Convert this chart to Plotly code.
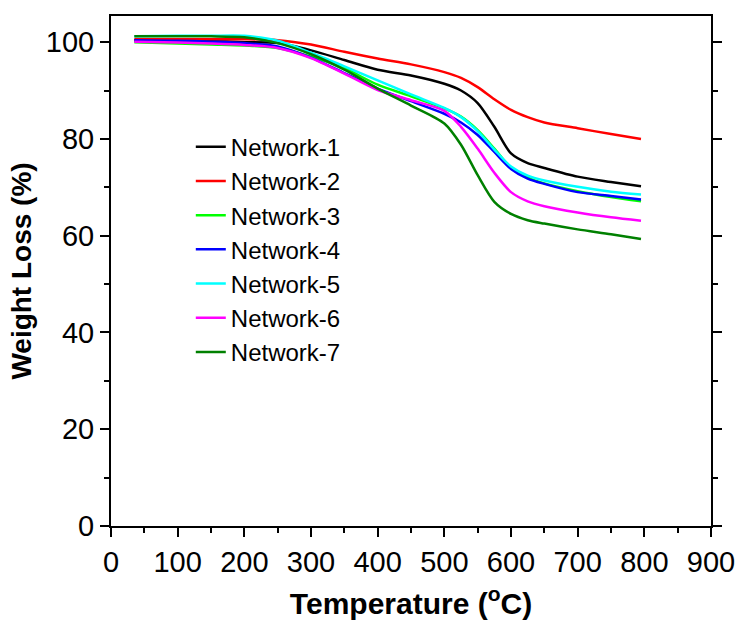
import plotly.graph_objects as go

temperature = [35, 100, 150, 200, 250, 300, 350, 400, 450, 500, 525, 550, 575, 600, 625, 650, 700, 750, 795]

network_1 = [100.4, 100.3, 100.2, 100.0, 99.8, 98.3, 96.3, 94.3, 93.1, 91.4, 90.0, 87.4, 82.5, 77.0, 75.0, 74.0, 72.2, 71.1, 70.2]
network_2 = [100.6, 100.6, 100.6, 100.6, 100.4, 99.5, 98.0, 96.6, 95.4, 93.8, 92.6, 90.7, 88.2, 86.0, 84.5, 83.4, 82.2, 81.0, 80.0]
network_3 = [100.0, 99.7, 99.5, 99.3, 98.8, 97.0, 94.6, 91.2, 88.8, 86.3, 84.6, 81.8, 78.0, 74.0, 72.0, 70.8, 69.2, 68.0, 67.1]
network_4 = [100.4, 100.3, 100.1, 99.8, 99.1, 96.8, 93.6, 90.4, 87.8, 85.2, 83.4, 80.8, 77.3, 73.8, 71.8, 70.7, 69.0, 68.2, 67.5]
network_5 = [101.2, 101.3, 101.3, 101.3, 100.3, 97.8, 95.0, 92.1, 89.2, 86.4, 84.5, 81.6, 77.8, 74.3, 72.4, 71.4, 70.1, 69.1, 68.5]
network_6 = [100.1, 99.9, 99.7, 99.4, 98.8, 96.7, 93.5, 90.1, 88.0, 85.8, 82.5, 78.0, 73.0, 69.0, 67.1, 66.1, 64.8, 63.8, 63.1]
network_7 = [101.2, 101.2, 101.2, 101.0, 99.8, 97.5, 94.3, 90.4, 86.9, 83.2, 78.8, 72.5, 67.0, 64.5, 63.2, 62.5, 61.3, 60.3, 59.3]

names = ["Network-1", "Network-2", "Network-3", "Network-4", "Network-5", "Network-6", "Network-7"]
series = [network_1, network_2, network_3, network_4, network_5, network_6, network_7]
colors = ["#000000", "#FF0000", "#00FF00", "#0000FF", "#00FFFF", "#FF00FF", "#008000"]

x_ticks = [0, 100, 200, 300, 400, 500, 600, 700, 800, 900]
y_ticks = [0, 20, 40, 60, 80, 100]

fig = go.Figure()
for i, (name, ys, c) in enumerate(zip(names, series, colors)):
    fig.add_trace(go.Scatter(
        x=temperature, y=ys, mode="lines", name=name,
        line=dict(color=c, width=2.5, shape="spline", smoothing=0.8),
        legendgroup=name,
    ))

font_family = "Liberation Sans, Arial, sans-serif"

fig.update_layout(
    width=747, height=627,
    margin=dict(l=111, r=29, t=16, b=101),
    paper_bgcolor="white", plot_bgcolor="white",
    font=dict(family=font_family, color="black"),
    showlegend=True,
    legend=dict(
        x=0.133, y=0.787, xanchor="left", yanchor="top",
        bgcolor="rgba(0,0,0,0)", borderwidth=0,
        font=dict(size=24, family=font_family, color="black"),
        tracegroupgap=0,
    ),
    xaxis=dict(
        range=[0, 900], tickvals=x_ticks, ticks="outside", ticklen=9, tickwidth=2,
        tickcolor="black", showline=True, linewidth=2, linecolor="black", mirror=True,
        showgrid=False, zeroline=False,
        tickfont=dict(size=29, family=font_family),
        minor=dict(ticks="outside", ticklen=5, tickwidth=2, tickcolor="black", dtick=50, showgrid=False),
        title=dict(text="<b>Temperature (<sup>o</sup>C)</b>", font=dict(size=30, family=font_family), standoff=16),
    ),
    yaxis=dict(
        range=[0, 105.4], tickvals=y_ticks, ticks="outside", ticklen=9, tickwidth=2,
        tickcolor="black", showline=True, linewidth=2, linecolor="black", mirror="ticks",
        showgrid=False, zeroline=False,
        tickfont=dict(size=29, family=font_family),
        minor=dict(ticks="outside", ticklen=5, tickwidth=2, tickcolor="black", dtick=10, showgrid=False),
        title=dict(text="<b>Weight Loss (%)</b>", font=dict(size=28, family=font_family), standoff=6),
    ),
)

fig.write_html("out.html")
